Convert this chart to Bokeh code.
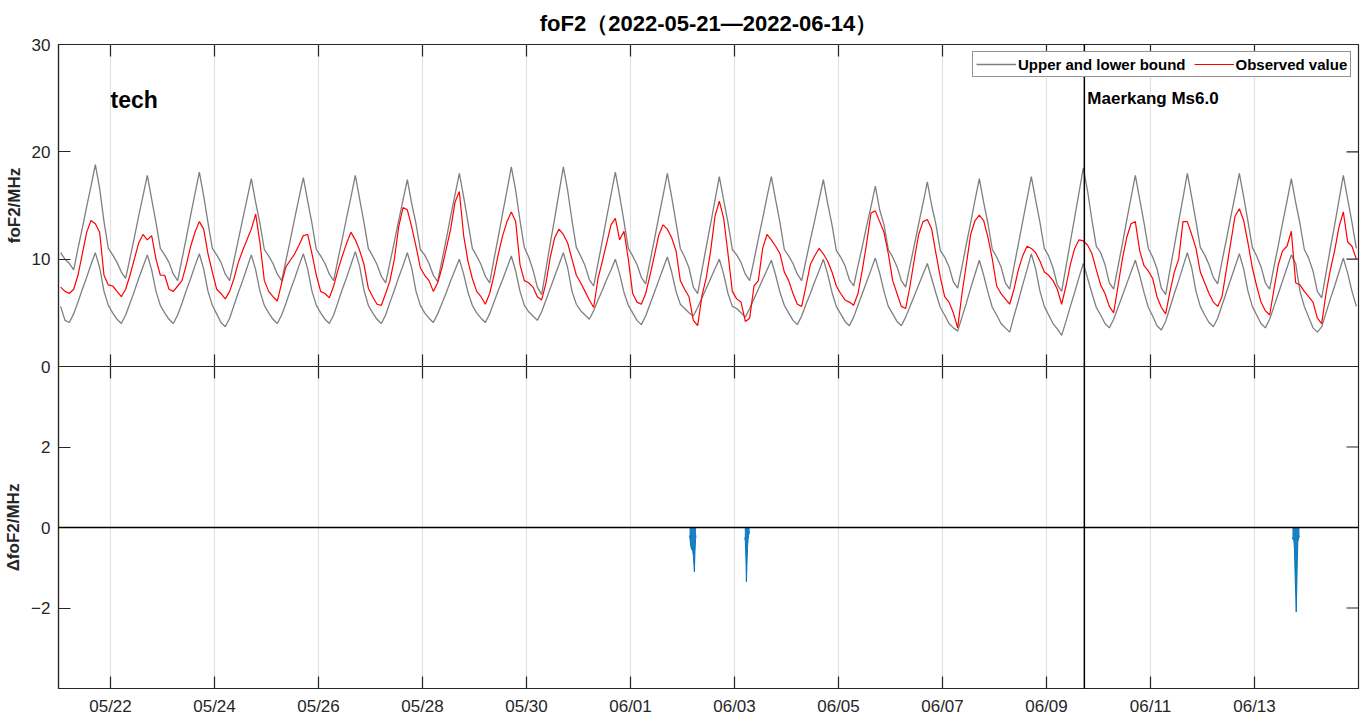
import math
import pandas as pd
from bokeh.plotting import figure
from bokeh.layouts import column
from bokeh.models import (Range1d, FixedTicker, Span, Label,
                          Legend, LegendItem, DatetimeTickFormatter)
from bokeh.embed import file_html
from bokeh.resources import INLINE

# ---------------- data ----------------
title_text = "foF2（2022-05-21—2022-06-14）"
station_name = "tech"
event_name = "Maerkang Ms6.0"
event_time = "2022-06-09 17:28"
start_date = "2022-05-21"
end_date = "2022-06-15"
n_days = 25
sample_hours = [1, 3, 5, 7, 9, 11, 13, 15, 17, 19, 21, 23]
tick_labels = ["05/22", "05/24", "05/26", "05/28", "05/30", "06/01",
               "06/03", "06/05", "06/07", "06/09", "06/11", "06/13"]
top_yticks = [0, 10, 20, 30]
bottom_yticks = [-2, 0, 2]
bottom_ytick_labels = ["\u22122", "0", "2"]
legend_labels = ["Upper and lower bound", "Observed value"]
top_ylabel = "foF2/MHz"
bottom_ylabel = "\u0394foF2/MHz"

upper_bound = [
    10.6, 10.0, 9.6, 9.0, 11.0, 12.9, 14.9, 16.8, 18.8, 16.6, 13.5, 11.0,
    10.4, 9.7, 8.8, 8.2, 10.1, 12.0, 14.0, 15.9, 17.8, 15.6, 13.4, 11.0,
    10.4, 9.7, 8.6, 8.0, 10.0, 12.0, 14.1, 16.1, 18.1, 15.9, 13.4, 11.0,
    10.4, 9.7, 8.6, 8.0, 9.9, 11.8, 13.7, 15.6, 17.5, 15.3, 13.3, 10.9,
    10.3, 9.6, 8.6, 8.0, 9.9, 11.8, 13.8, 15.7, 17.6, 15.4, 13.3, 10.9,
    10.3, 9.6, 8.6, 8.0, 10.0, 11.9, 13.9, 15.8, 17.8, 15.6, 13.4, 11.0,
    10.3, 9.5, 8.4, 7.8, 9.7, 11.6, 13.6, 15.5, 17.4, 15.2, 13.3, 10.9,
    10.4, 9.6, 8.5, 7.9, 9.9, 11.9, 14.0, 16.0, 18.0, 15.8, 13.4, 11.0,
    10.3, 9.5, 8.4, 7.8, 10.0, 12.1, 14.3, 16.4, 18.6, 16.4, 13.6, 11.1,
    10.2, 9.0, 7.4, 6.7, 9.1, 11.5, 13.8, 16.2, 18.6, 16.4, 13.6, 11.1,
    10.3, 9.4, 8.1, 7.5, 9.6, 11.7, 13.9, 16.0, 18.1, 15.9, 13.5, 11.0,
    10.3, 9.5, 8.3, 7.7, 9.8, 11.8, 13.9, 15.9, 18.0, 15.8, 13.4, 11.0,
    10.2, 9.2, 7.4, 6.8, 9.0, 11.2, 13.3, 15.5, 17.7, 15.5, 13.4, 10.9,
    10.4, 9.7, 8.6, 8.0, 9.9, 11.9, 13.8, 15.8, 17.7, 15.5, 13.4, 10.9,
    10.3, 9.6, 8.6, 8.0, 9.9, 11.8, 13.6, 15.5, 17.4, 15.2, 13.2, 10.8,
    10.2, 9.4, 8.1, 7.5, 9.4, 11.2, 13.1, 14.9, 16.8, 14.6, 13.2, 10.9,
    10.2, 9.3, 8.0, 7.4, 9.4, 11.3, 13.3, 15.2, 17.2, 15.0, 13.2, 10.8,
    10.2, 9.3, 7.9, 7.3, 9.3, 11.4, 13.4, 15.5, 17.5, 15.3, 13.3, 10.9,
    10.2, 9.3, 7.8, 7.2, 9.3, 11.4, 13.5, 15.6, 17.7, 15.5, 13.4, 11.0,
    10.3, 9.2, 7.6, 7.0, 9.3, 11.6, 13.9, 16.2, 18.5, 16.3, 13.6, 11.2,
    10.6, 9.5, 7.8, 7.2, 9.3, 11.4, 13.6, 15.7, 17.8, 15.6, 13.4, 11.0,
    10.2, 9.1, 7.3, 6.7, 9.0, 11.2, 13.5, 15.7, 18.0, 15.8, 13.5, 11.1,
    10.4, 9.5, 8.3, 7.7, 9.8, 11.8, 13.9, 15.9, 18.0, 15.8, 13.5, 11.1,
    10.3, 9.3, 7.8, 7.2, 9.3, 11.3, 13.4, 15.4, 17.5, 15.3, 13.3, 10.9,
    10.1, 8.9, 7.0, 6.4, 8.7, 11.0, 13.2, 15.5, 17.8, 15.6, 13.4, 11.0,
]

lower_bound = [
    5.6, 4.3, 4.1, 4.9, 6.0, 7.2, 8.3, 9.5, 10.6, 9.2, 7.0, 5.7,
    5.0, 4.4, 4.0, 4.8, 5.9, 7.0, 8.2, 9.3, 10.4, 9.0, 7.0, 5.7,
    5.0, 4.4, 4.0, 4.8, 5.9, 7.1, 8.2, 9.4, 10.5, 9.1, 7.0, 5.7,
    4.9, 4.1, 3.7, 4.5, 5.7, 6.9, 8.0, 9.2, 10.4, 9.0, 7.0, 5.7,
    5.0, 4.4, 4.0, 4.8, 5.9, 7.1, 8.2, 9.4, 10.5, 9.1, 7.0, 5.7,
    5.0, 4.4, 4.0, 4.8, 6.0, 7.2, 8.3, 9.5, 10.7, 9.3, 7.1, 5.7,
    5.0, 4.4, 4.0, 4.8, 6.0, 7.1, 8.3, 9.4, 10.6, 9.2, 7.0, 5.7,
    5.0, 4.5, 4.1, 4.9, 5.9, 6.9, 8.0, 9.0, 10.0, 8.6, 6.9, 5.7,
    5.0, 4.5, 4.1, 4.9, 6.0, 7.1, 8.1, 9.2, 10.3, 8.9, 7.0, 5.7,
    5.1, 4.7, 4.3, 5.1, 6.2, 7.3, 8.4, 9.5, 10.6, 9.2, 7.0, 5.8,
    5.2, 4.8, 4.4, 5.2, 6.2, 7.1, 8.1, 9.0, 10.0, 8.6, 6.9, 5.7,
    5.0, 4.3, 3.9, 4.7, 5.8, 6.9, 8.0, 9.1, 10.2, 8.8, 7.0, 5.8,
    5.4, 5.0, 4.7, 5.5, 6.4, 7.3, 8.2, 9.1, 10.0, 8.6, 6.8, 5.6,
    5.4, 5.0, 4.6, 5.4, 6.3, 7.2, 8.1, 9.0, 9.9, 8.5, 6.9, 5.7,
    5.0, 4.3, 3.9, 4.7, 5.8, 6.8, 7.9, 8.9, 10.0, 8.6, 6.9, 5.6,
    4.9, 4.2, 3.8, 4.6, 5.7, 6.8, 7.9, 9.0, 10.1, 8.7, 7.0, 5.6,
    4.9, 4.2, 3.8, 4.6, 5.6, 6.6, 7.6, 8.6, 9.6, 8.2, 6.8, 5.5,
    4.8, 4.0, 3.6, 3.3, 4.6, 5.9, 7.3, 8.6, 9.9, 8.5, 6.9, 5.5,
    4.8, 4.0, 3.6, 3.2, 4.7, 6.1, 7.6, 9.0, 10.5, 9.1, 7.0, 5.6,
    4.8, 4.0, 3.5, 2.9, 4.2, 5.6, 6.9, 8.3, 9.6, 8.2, 6.8, 5.5,
    4.8, 4.0, 3.6, 4.4, 5.5, 6.6, 7.7, 8.8, 9.9, 8.5, 6.9, 5.5,
    4.7, 3.8, 3.4, 4.2, 5.5, 6.8, 8.0, 9.3, 10.6, 9.2, 7.0, 5.6,
    4.8, 4.1, 3.7, 4.5, 5.7, 6.9, 8.1, 9.3, 10.5, 9.1, 7.0, 5.6,
    4.8, 4.0, 3.6, 4.4, 5.6, 6.8, 8.0, 9.2, 10.4, 9.6, 7.0, 5.6,
    4.6, 3.6, 3.2, 3.7, 5.0, 6.3, 7.5, 8.8, 10.1, 8.7, 7.0, 5.6,
]

observed_value = [
    7.4, 7.0, 6.8, 7.2, 8.5, 10.5, 12.5, 13.6, 13.3, 12.5, 8.5, 7.6,
    7.5, 7.0, 6.5, 7.2, 8.5, 10.0, 11.5, 12.3, 11.8, 12.2, 10.0, 8.5,
    8.5, 7.2, 7.0, 7.5, 8.0, 9.5, 11.2, 12.5, 13.5, 12.8, 10.5, 8.8,
    7.2, 6.8, 6.3, 7.0, 8.2, 9.7, 10.8, 11.8, 12.8, 14.2, 11.5, 8.0,
    7.0, 6.5, 6.1, 7.8, 9.3, 9.9, 10.5, 11.3, 12.2, 12.3, 10.5, 8.5,
    7.0, 6.8, 6.4, 7.5, 9.0, 10.3, 11.5, 12.5, 11.8, 10.8, 9.5, 7.3,
    6.5, 5.8, 5.7, 6.8, 8.0, 10.0, 13.0, 14.8, 14.6, 13.0, 11.2, 9.2,
    8.5, 8.0, 7.0, 7.8, 9.2, 11.0, 12.8, 15.3, 16.3, 12.2, 9.8, 8.2,
    7.0, 6.5, 5.8, 6.8, 8.5, 10.5, 12.2, 13.5, 14.4, 13.5, 9.5, 8.0,
    7.8, 7.4, 6.5, 6.2, 7.8, 10.2, 12.0, 12.8, 12.3, 11.5, 10.0, 8.5,
    7.8, 7.0, 6.2, 5.5, 8.2, 9.8, 11.5, 13.2, 13.8, 11.8, 12.6, 10.0,
    6.8, 6.0, 5.8, 6.8, 8.5, 10.3, 12.2, 13.2, 12.8, 12.0, 10.8, 8.0,
    7.2, 6.5, 4.3, 3.8, 6.6, 8.3, 10.8, 14.0, 15.4, 13.8, 10.5, 7.0,
    6.3, 6.0, 4.2, 4.5, 7.5, 8.0, 11.0, 12.3, 11.8, 11.2, 10.5, 8.8,
    8.0, 6.8, 5.8, 5.6, 7.5, 9.5, 10.3, 11.0, 10.5, 9.8, 8.8, 7.5,
    6.8, 6.2, 6.0, 5.7, 6.8, 9.0, 11.5, 14.3, 14.5, 13.5, 12.5, 10.5,
    8.0, 6.8, 5.6, 5.4, 7.5, 10.0, 12.3, 13.5, 13.7, 12.8, 10.5, 8.3,
    6.5, 6.0, 5.0, 3.6, 6.8, 9.5, 12.3, 13.6, 14.1, 13.6, 12.0, 10.0,
    7.5, 6.8, 6.3, 5.8, 7.2, 9.0, 10.3, 11.2, 11.0, 10.6, 9.8, 8.8,
    8.5, 8.0, 7.2, 5.8, 7.5, 9.5, 11.0, 11.8, 11.7, 11.3, 10.5, 9.0,
    7.6, 6.8, 5.6, 5.0, 7.5, 10.0, 12.0, 13.3, 13.5, 10.8, 9.4, 8.9,
    8.2, 6.5, 5.5, 4.9, 7.0, 8.8, 10.0, 13.5, 13.5, 12.3, 11.0, 8.8,
    7.8, 6.8, 6.0, 5.6, 6.5, 9.0, 11.5, 14.0, 14.7, 13.6, 11.5, 9.2,
    7.5, 6.0, 5.2, 4.8, 7.2, 9.5, 10.8, 11.2, 12.6, 7.8, 7.6, 7.0,
    6.5, 6.0, 4.5, 4.0, 6.8, 9.0, 10.8, 13.0, 14.4, 11.6, 11.2, 10.0,
]

anomaly_time = [
    "2022-06-02 03:15", "2022-06-02 03:30", "2022-06-02 03:45", "2022-06-02 04:00",
    "2022-06-02 04:15", "2022-06-02 04:30", "2022-06-02 04:45", "2022-06-02 05:00",
    "2022-06-02 05:15", "2022-06-02 05:30", "2022-06-02 05:45", "2022-06-02 06:00",
    "2022-06-02 06:15",
    "2022-06-03 04:45", "2022-06-03 05:00", "2022-06-03 05:15", "2022-06-03 05:30",
    "2022-06-03 05:45", "2022-06-03 06:00", "2022-06-03 06:15", "2022-06-03 06:30",
    "2022-06-03 06:45", "2022-06-03 07:00",
    "2022-06-13 17:30", "2022-06-13 17:45", "2022-06-13 18:00", "2022-06-13 18:15",
    "2022-06-13 18:30", "2022-06-13 18:45", "2022-06-13 19:00", "2022-06-13 19:15",
    "2022-06-13 19:30", "2022-06-13 19:45", "2022-06-13 20:00", "2022-06-13 20:15",
    "2022-06-13 20:30", "2022-06-13 20:45",
]
anomaly_value = [
    -0.2, -0.3, -0.45, -0.5, -0.55, -0.5, -0.6, -0.7, -0.9, -1.1, -0.6, -0.3, -0.2,
    -0.25, -0.35, -0.7, -1.35, -0.9, -0.5, -0.3, -0.2, -0.15, -0.1,
    -0.25, -0.3, -0.3, -0.35, -0.6, -1.2, -1.6, -2.1, -1.5, -0.8, -0.35, -0.3, -0.25, -0.2,
]

# ---------------- styling ----------------
FONT = "Liberation Sans"
AX = "#262626"
GRID = "#e2e2e2"
GRAY = "#7f7f7f"
RED = "#ff0000"
BLUE = "#0072BD"
TICK_LEN = 12


def to_ms(s):
    return pd.Timestamp(s).value / 1e6


times_ms = [to_ms(pd.Timestamp(start_date) + pd.Timedelta(days=d, hours=h))
            for d in range(n_days) for h in sample_hours]
tick_ms = [to_ms("2022-" + lab.replace("/", "-")) for lab in tick_labels]
x0, x1 = to_ms(start_date), to_ms(end_date)
event_ms = to_ms(event_time)

fmt = DatetimeTickFormatter(days="%m/%d", months="%m/%d", hours="%m/%d", years="%m/%d")


def style_axis(ax, ticks):
    ax.ticker = FixedTicker(ticks=ticks)
    ax.major_tick_in = TICK_LEN
    ax.major_tick_out = 0
    ax.minor_tick_in = 0
    ax.minor_tick_out = 0
    ax.major_tick_line_color = AX
    ax.major_tick_line_width = 1.2
    ax.axis_line_color = AX
    ax.axis_line_width = 1.2
    ax.major_label_text_font = FONT
    ax.major_label_text_font_size = "17px"
    ax.major_label_text_color = AX
    ax.major_label_standoff = 8


def style_ylabel(ax, text):
    ax.axis_label = text
    ax.axis_label_text_font = FONT
    ax.axis_label_text_font_style = "bold"
    ax.axis_label_text_font_size = "17px"
    ax.axis_label_text_color = AX
    ax.axis_label_standoff = 5


def style_xgrid(p):
    for g in p.xgrid:
        g.ticker = FixedTicker(ticks=tick_ms)
        g.grid_line_color = GRID
        g.grid_line_width = 1.2
    for g in p.ygrid:
        g.visible = False


def inward_ticks(p, xs, ys, angle):
    # tick marks on the box sides that carry no labels (half of each dash is clipped by the frame)
    p.scatter(x=xs, y=ys, marker="dash", size=2 * TICK_LEN, angle=angle,
              line_color=AX, line_width=1.2)


# ---------------- top panel ----------------
p1 = figure(width=1362, height=376, x_axis_location=None,
            x_range=Range1d(x0, x1), y_range=Range1d(0, 30),
            output_backend="svg", toolbar_location=None,
            min_border_left=58, min_border_right=4,
            min_border_top=42, min_border_bottom=10)
p1.outline_line_color = AX
p1.outline_line_width = 1.2
p1.background_fill_color = "white"
p1.border_fill_color = "white"
style_xgrid(p1)

p1.title.text = title_text
p1.title.align = "center"
p1.title.text_font = FONT
p1.title.text_font_size = "22px"
p1.title.text_font_style = "bold"
p1.title.text_color = "#000000"
p1.title.standoff = 17

style_axis(p1.yaxis[0], top_yticks)
style_ylabel(p1.yaxis[0], top_ylabel)

inward_ticks(p1, tick_ms, [30] * len(tick_ms), math.pi / 2)
inward_ticks(p1, tick_ms, [0] * len(tick_ms), math.pi / 2)
inward_ticks(p1, [x1] * len(top_yticks), top_yticks, 0)

r_up = p1.line(times_ms, upper_bound, line_color=GRAY, line_width=1.3)
r_lo = p1.line(times_ms, lower_bound, line_color=GRAY, line_width=1.3)
r_obs = p1.line(times_ms, observed_value, line_color=RED, line_width=1.2)

p1.add_layout(Span(location=event_ms, dimension="height", line_color="black", line_width=1.5))

legend = Legend(items=[LegendItem(label=legend_labels[0], renderers=[r_up]),
                       LegendItem(label=legend_labels[1], renderers=[r_obs])],
                orientation="horizontal", location=(914, 289))
legend.label_text_font = FONT
legend.label_text_font_style = "bold"
legend.label_text_font_size = "15px"
legend.label_text_color = "#000000"
legend.border_line_color = AX
legend.border_line_width = 1
legend.background_fill_color = "white"
legend.background_fill_alpha = 1.0
legend.padding = 3
legend.spacing = 8
legend.glyph_width = 40
legend.glyph_height = 18
legend.label_height = 18
legend.label_standoff = 2
legend.margin = 0
p1.add_layout(legend)

p1.add_layout(Label(x=to_ms("2022-05-22"), y=24.8, text=station_name,
                    text_font=FONT, text_font_style="bold", text_font_size="23px",
                    text_color="#000000", text_baseline="middle", text_align="left"))
p1.add_layout(Label(x=event_ms, y=25.0, x_offset=3, text=event_name,
                    text_font=FONT, text_font_style="bold", text_font_size="17px",
                    text_color="#000000", text_baseline="middle", text_align="left"))

# ---------------- bottom panel ----------------
p2 = figure(width=1362, height=352, x_axis_type="datetime",
            x_range=p1.x_range, y_range=Range1d(-4, 4),
            output_backend="svg", toolbar_location=None,
            min_border_left=58, min_border_right=4,
            min_border_top=0, min_border_bottom=30)
p2.margin = (-10, 0, 0, 0)
p2.outline_line_color = AX
p2.outline_line_width = 1.2
p2.background_fill_color = "white"
p2.border_fill_alpha = 0.0
style_xgrid(p2)

style_axis(p2.xaxis[0], tick_ms)
p2.xaxis[0].formatter = fmt
style_axis(p2.yaxis[0], bottom_yticks)
p2.yaxis[0].major_label_overrides = dict(zip(bottom_yticks, bottom_ytick_labels))
style_ylabel(p2.yaxis[0], bottom_ylabel)

inward_ticks(p2, tick_ms, [4] * len(tick_ms), math.pi / 2)
inward_ticks(p2, [x1] * len(bottom_yticks), bottom_yticks, 0)

p2.add_layout(Span(location=0, dimension="width", line_color="black", line_width=1.3))
p2.add_layout(Span(location=event_ms, dimension="height", line_color="black", line_width=1.5))

anom_ms = [to_ms(t) for t in anomaly_time]
groups = []
gx, gy = [], []
for xv, yv in zip(anom_ms, anomaly_value):
    if gx and xv - gx[-1] > 30 * 60 * 1000:
        groups.append((gx, gy))
        gx, gy = [], []
    gx.append(xv)
    gy.append(yv)
groups.append((gx, gy))
for gx, gy in groups:
    p2.varea(x=gx, y1=[0] * len(gx), y2=gy, fill_color=BLUE, fill_alpha=0.9)
    p2.line(gx, gy, line_color=BLUE, line_width=1)

layout = column(p1, p2, spacing=0)
html = file_html(layout, INLINE, title="foF2")
open("out.html", "w").write(html)
